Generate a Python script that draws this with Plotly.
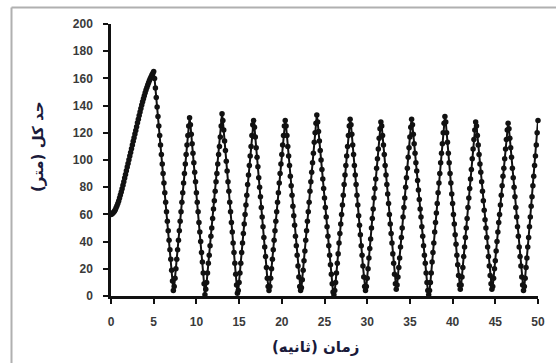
import plotly.graph_objects as go

# Water height sampled every 0.1 s from t = 0 to t = 50 s
SAMPLE_START = 0.0
SAMPLE_STEP = 0.1
height = [
    60, 60.3, 60.8, 61.5, 62.4, 63.5, 64.8, 66.3, 68, 69.9,
    72, 74.2, 76.5, 78.9, 81.4, 84, 86.7, 89.4, 92.1, 94.8,
    97.5, 100.2, 102.9, 105.6, 108.3, 111, 113.7, 116.4, 119.1, 121.7,
    124.5, 127.3, 130, 132.7, 135.3, 137.9, 140.4, 142.8, 145.1, 147.3,
    149.4, 151.4, 153.3, 155.1, 156.8, 158.4, 159.9, 161.3, 162.6, 163.8,
    165, 160, 153, 146, 139, 132, 125, 118, 111, 104,
    97, 90, 83, 76, 69, 62, 55, 48, 41, 34,
    27, 19, 11, 4, 7, 13, 20, 27, 34, 41,
    48, 55, 62, 69, 76, 83, 90, 97, 104, 111,
    118, 125, 131, 126, 119, 112, 105, 98, 91, 84,
    76, 69, 62, 54, 47, 40, 32, 25, 17, 9,
    1, 5, 10, 17, 24, 30, 37, 44, 50, 57,
    64, 70, 77, 84, 90, 97, 104, 110, 117, 125,
    134, 129, 122, 114, 107, 99, 92, 84, 77, 69,
    62, 54, 47, 39, 32, 24, 16, 8, 2, 4,
    10, 17, 24, 32, 39, 46, 53, 60, 67, 74,
    82, 89, 96, 103, 110, 118, 126, 129, 124, 117,
    109, 102, 95, 87, 80, 73, 65, 58, 51, 43,
    36, 29, 21, 13, 7, 4, 7, 13, 20, 27,
    34, 41, 48, 55, 62, 69, 76, 83, 90, 97,
    104, 111, 118, 125, 129, 125, 118, 110, 103, 96,
    88, 81, 74, 66, 59, 52, 44, 37, 30, 22,
    14, 7, 4, 6, 12, 19, 26, 33, 41, 48,
    55, 62, 69, 77, 84, 91, 98, 105, 113, 120,
    127, 133, 128, 121, 114, 107, 100, 93, 86, 79,
    72, 65, 58, 51, 44, 37, 30, 23, 16, 9,
    3, 1, 4, 10, 17, 24, 31, 39, 46, 53,
    60, 67, 74, 82, 89, 96, 103, 110, 118, 125,
    130, 126, 119, 111, 104, 96, 89, 82, 74, 67,
    59, 52, 45, 37, 30, 22, 14, 7, 4, 7,
    13, 20, 28, 35, 42, 50, 57, 64, 72, 79,
    86, 94, 101, 108, 116, 123, 128, 125, 118, 111,
    104, 96, 89, 82, 75, 68, 60, 53, 46, 39,
    31, 24, 16, 9, 5, 8, 14, 21, 28, 36,
    43, 50, 58, 65, 72, 80, 87, 94, 102, 109,
    117, 124, 130, 126, 119, 112, 105, 98, 92, 85,
    78, 71, 64, 58, 51, 44, 37, 30, 24, 17,
    10, 4, 1, 4, 10, 17, 25, 32, 39, 47,
    54, 61, 68, 76, 83, 90, 98, 105, 112, 120,
    127, 132, 128, 120, 113, 105, 98, 90, 83, 75,
    68, 60, 53, 45, 38, 30, 23, 15, 8, 5,
    8, 14, 21, 29, 36, 43, 50, 57, 65, 72,
    79, 86, 93, 101, 108, 115, 122, 128, 125, 118,
    111, 104, 97, 91, 84, 77, 70, 63, 56, 50,
    43, 36, 29, 22, 15, 9, 5, 7, 13, 20,
    26, 33, 40, 47, 54, 60, 67, 74, 81, 88,
    94, 101, 108, 115, 122, 127, 123, 116, 109, 102,
    94, 87, 80, 73, 65, 58, 51, 44, 36, 29,
    22, 14, 8, 4, 7, 13, 21, 28, 36, 43,
    51, 58, 66, 73, 81, 88, 96, 103, 111, 120,
    129,
]

x_ticks = [0, 5, 10, 15, 20, 25, 30, 35, 40, 45, 50]
y_ticks = [0, 20, 40, 60, 80, 100, 120, 140, 160, 180, 200]
x_title = "زمان (ثانیه)"
y_title = "حد کل (متر)"

W, H = 556, 363
L, R, T, B = 111, 18, 24, 67
pw, ph = W - L - R, H - T - B


def px_x(p):
    return (p - L) / pw


def px_y(p):
    return (H - B - p) / ph


fig = go.Figure()
fig.add_trace(go.Scatter(
    x0=SAMPLE_START, dx=SAMPLE_STEP, y=height,
    mode="lines+markers",
    line=dict(color="#111111", width=2),
    marker=dict(symbol="circle", size=5.5, color="#111111"),
    cliponaxis=False,
    showlegend=False,
))

tick_font = dict(family="Liberation Sans Narrow, Liberation Sans, Arial, sans-serif",
                 size=12, color="#3a3a3a", weight="bold")

fig.update_layout(
    width=W, height=H,
    margin=dict(l=L, r=R, t=T, b=B, pad=0),
    paper_bgcolor="white", plot_bgcolor="white",
    xaxis=dict(
        range=[0, 50], tickvals=x_ticks, ticktext=[str(v) for v in x_ticks],
        showgrid=False, zeroline=False,
        showline=True, linecolor="#111111", linewidth=2.5,
        ticks="outside", ticklen=5, tickwidth=1.8, tickcolor="#111111",
        ticklabelstandoff=8, tickfont=tick_font,
    ),
    yaxis=dict(
        range=[0, 200], tickvals=y_ticks, ticktext=[str(v) for v in y_ticks],
        showgrid=False, zeroline=False,
        showline=True, linecolor="#111111", linewidth=2.5,
        ticks="outside", ticklen=5, tickwidth=1.8, tickcolor="#111111",
        ticklabelstandoff=8, tickfont=tick_font,
    ),
    shapes=[
        dict(type="line", xref="paper", yref="paper",
             x0=px_x(11.5), x1=px_x(W + 5), y0=px_y(7.5), y1=px_y(7.5),
             line=dict(color="#b0b0b0", width=2)),
        dict(type="line", xref="paper", yref="paper",
             x0=px_x(11.5), x1=px_x(11.5), y0=px_y(7.5), y1=px_y(H + 5),
             line=dict(color="#b0b0b0", width=2)),
    ],
    annotations=[
        dict(text="<b>" + x_title + "</b>", xref="paper", yref="paper",
             x=px_x(315), y=px_y(347), showarrow=False,
             xanchor="center", yanchor="middle",
             font=dict(family="DejaVu Sans, sans-serif", size=15, color="#1a1a3a")),
        dict(text="<b>" + y_title + "</b>", xref="paper", yref="paper",
             x=px_x(38), y=px_y(147), showarrow=False, textangle=-90,
             xanchor="center", yanchor="middle",
             font=dict(family="DejaVu Sans, sans-serif", size=15, color="#1a1a3a")),
    ],
)

fig.write_html("out.html")
